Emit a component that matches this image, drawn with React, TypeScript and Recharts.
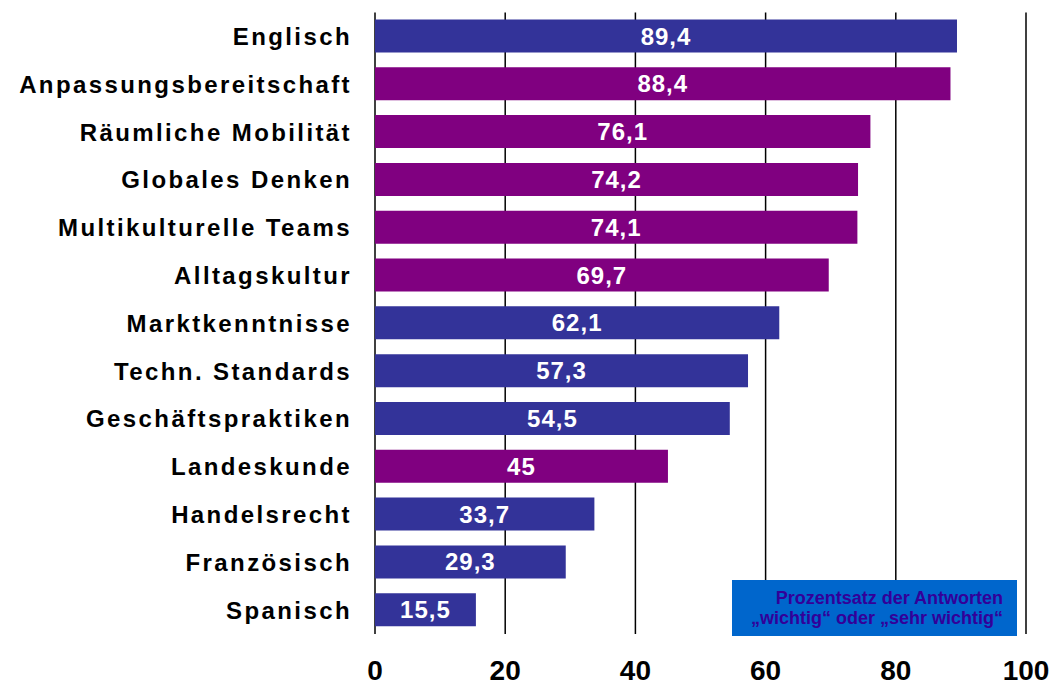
import React from 'react';
import { BarChart, Bar, XAxis, YAxis, CartesianGrid, Cell, LabelList } from 'recharts';

const categories = [
  'Englisch',
  'Anpassungsbereitschaft',
  'Räumliche Mobilität',
  'Globales Denken',
  'Multikulturelle Teams',
  'Alltagskultur',
  'Marktkenntnisse',
  'Techn. Standards',
  'Geschäftspraktiken',
  'Landeskunde',
  'Handelsrecht',
  'Französisch',
  'Spanisch',
];
const values = [89.4, 88.4, 76.1, 74.2, 74.1, 69.7, 62.1, 57.3, 54.5, 45, 33.7, 29.3, 15.5];
const groups = ['lang', 'soft', 'soft', 'soft', 'soft', 'soft', 'know', 'know', 'know', 'soft', 'know', 'lang', 'lang'];
const xTicks = [0, 20, 40, 60, 80, 100];
const legendLines = ['Prozentsatz der Antworten', '„wichtig“ oder „sehr wichtig“'];

const BLUE = '#333399';
const PURPLE = '#800080';
const FONT = '"Liberation Sans", Arial, sans-serif';

const data = categories.map((name, i) => ({ name, value: values[i], group: groups[i] }));

const CategoryTick = (props: any) => {
  const { x, y, payload } = props;
  return (
    <text
      x={x}
      y={y}
      dy="0.355em"
      textAnchor="end"
      fill="#000"
      fontFamily={FONT}
      fontSize={24}
      fontWeight={700}
      style={{ letterSpacing: '2.4px' }}
    >
      {payload.value}
    </text>
  );
};

const ValueTick = (props: any) => {
  const { x, y, payload } = props;
  return (
    <text x={x} y={y} dy="0.71em" textAnchor="middle" fill="#000" fontFamily={FONT} fontSize={28} fontWeight={700}>
      {payload.value}
    </text>
  );
};

const ValueLabel = (props: any) => {
  const { x, y, width, height, value } = props;
  return (
    <text
      x={x + width / 2}
      y={y + height / 2}
      dy="0.355em"
      textAnchor="middle"
      fill="#fff"
      fontFamily={FONT}
      fontSize={24}
      fontWeight={700}
      style={{ letterSpacing: '1px' }}
    >
      {String(value).replace('.', ',')}
    </text>
  );
};

export default function App() {
  return (
    <div style={{ position: 'absolute', left: 0, top: 0, width: 1061, height: 686, background: '#fff', fontFamily: FONT }}>
      <BarChart
        width={1061}
        height={686}
        data={data}
        layout="vertical"
        margin={{ top: 12.5, right: 35, bottom: 0, left: 0 }}
        barCategoryGap={0}
      >
        <CartesianGrid vertical={true} horizontal={false} stroke="#000" strokeWidth={1.5} />
        <XAxis
          type="number"
          domain={[0, 100]}
          ticks={xTicks}
          interval={0}
          height={52}
          axisLine={false}
          tickLine={false}
          tickSize={0}
          tickMargin={26}
          tick={<ValueTick />}
        />
        <YAxis
          type="category"
          dataKey="name"
          width={375}
          axisLine={false}
          tickLine={false}
          tickSize={0}
          tickMargin={23}
          interval={0}
          tick={<CategoryTick />}
        />
        <Bar dataKey="value" barSize={33} isAnimationActive={false}>
          {data.map((d, i) => (
            <Cell key={i} fill={d.group === 'soft' ? PURPLE : BLUE} />
          ))}
          <LabelList dataKey="value" content={<ValueLabel />} />
        </Bar>
      </BarChart>
      <div
        style={{
          position: 'absolute',
          left: 732,
          top: 580,
          width: 285,
          height: 56,
          boxSizing: 'border-box',
          background: '#0066CC',
          color: '#330099',
          fontFamily: FONT,
          fontWeight: 700,
          fontSize: 18,
          lineHeight: '20.5px',
          textAlign: 'right',
          paddingTop: 7.5,
          paddingRight: 14,
        }}
      >
        {legendLines.map((l, i) => (
          <div key={i}>{l}</div>
        ))}
      </div>
    </div>
  );
}
